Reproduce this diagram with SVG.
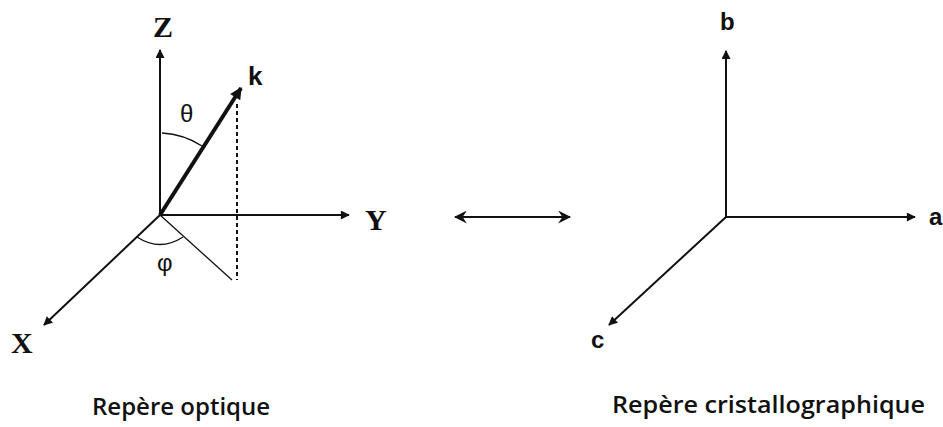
<svg xmlns="http://www.w3.org/2000/svg" width="943" height="427" viewBox="0 0 943 427">
<style>
.ax{stroke:#111;stroke-width:2;fill:none}
.thin{stroke:#111;stroke-width:1.3;fill:none}
.serif{font-family:"Liberation Serif","Times New Roman",serif;font-weight:bold;font-size:30px;fill:#111}
.sansb{font-family:"Liberation Sans",Arial,sans-serif;font-weight:bold;fill:#111}
.greek{font-family:"Liberation Sans",Arial,sans-serif;font-size:24px;fill:#111}
.cap{font-family:"Open Sans","Liberation Sans",sans-serif;font-weight:600;font-size:24px;fill:#111}
</style>
<defs>
<marker id="ah" viewBox="0 0 10 10" refX="9" refY="5" markerWidth="11" markerHeight="9" markerUnits="userSpaceOnUse" orient="auto">
<path d="M0,0 L10,5 L0,10 Z" fill="#111"/>
</marker>
<marker id="ahk" viewBox="0 0 10 10" refX="9" refY="5" markerWidth="15" markerHeight="12" markerUnits="userSpaceOnUse" orient="auto">
<path d="M0,0 L10,5 L0,10 Z" fill="#111"/>
</marker>
<marker id="barb" viewBox="0 0 12 12" refX="11" refY="6" markerWidth="13" markerHeight="13" markerUnits="userSpaceOnUse" orient="auto-start-reverse">
<path d="M0,0 L12,6 L0,12 L4,6 Z" fill="#111"/>
</marker>
</defs>
<g id="connectors">
<line class="ax" x1="160" y1="215" x2="160" y2="50" marker-end="url(#ah)"/>
<line class="ax" x1="160" y1="215" x2="349" y2="215" marker-end="url(#ah)"/>
<line class="ax" x1="160" y1="215" x2="44" y2="325" marker-end="url(#ah)"/>
<line x1="160" y1="215" x2="241" y2="88" stroke="#111" stroke-width="4" marker-end="url(#ahk)"/>
<line x1="237" y1="104" x2="237" y2="280" stroke="#111" stroke-width="2" stroke-dasharray="4,3"/>
<line class="thin" x1="160" y1="215" x2="232" y2="280"/>
<path class="thin" d="M162,133 A82,82 0 0 1 202,146"/>
<path class="thin" d="M137,237 Q160,252 183,237"/>
<line class="ax" x1="726" y1="217" x2="726" y2="51" marker-end="url(#ah)"/>
<line class="ax" x1="726" y1="217" x2="915" y2="217" marker-end="url(#ah)"/>
<line class="ax" x1="726" y1="217" x2="609" y2="325" marker-end="url(#ah)"/>
<line class="ax" x1="455" y1="217" x2="570" y2="217" marker-start="url(#barb)" marker-end="url(#barb)"/>
</g>
<g id="optique">
<text class="serif" x="153" y="37">Z</text>
<text class="serif" x="365" y="230">Y</text>
<text class="serif" x="11" y="353">X</text>
<text class="sansb" x="248" y="85" font-size="26">k</text>
<text class="greek" x="180" y="122">θ</text>
<text class="greek" x="157" y="271">φ</text>
<text class="cap" x="92" y="415">Repère optique</text>
</g>
<g id="cristallo">
<text class="sansb" x="720" y="30" font-size="24">b</text>
<text class="sansb" x="929" y="225" font-size="24">a</text>
<text class="sansb" x="591" y="348" font-size="24">c</text>
<text class="cap" x="612" y="413" textLength="313" lengthAdjust="spacingAndGlyphs">Repère cristallographique</text>
</g>
</svg>
